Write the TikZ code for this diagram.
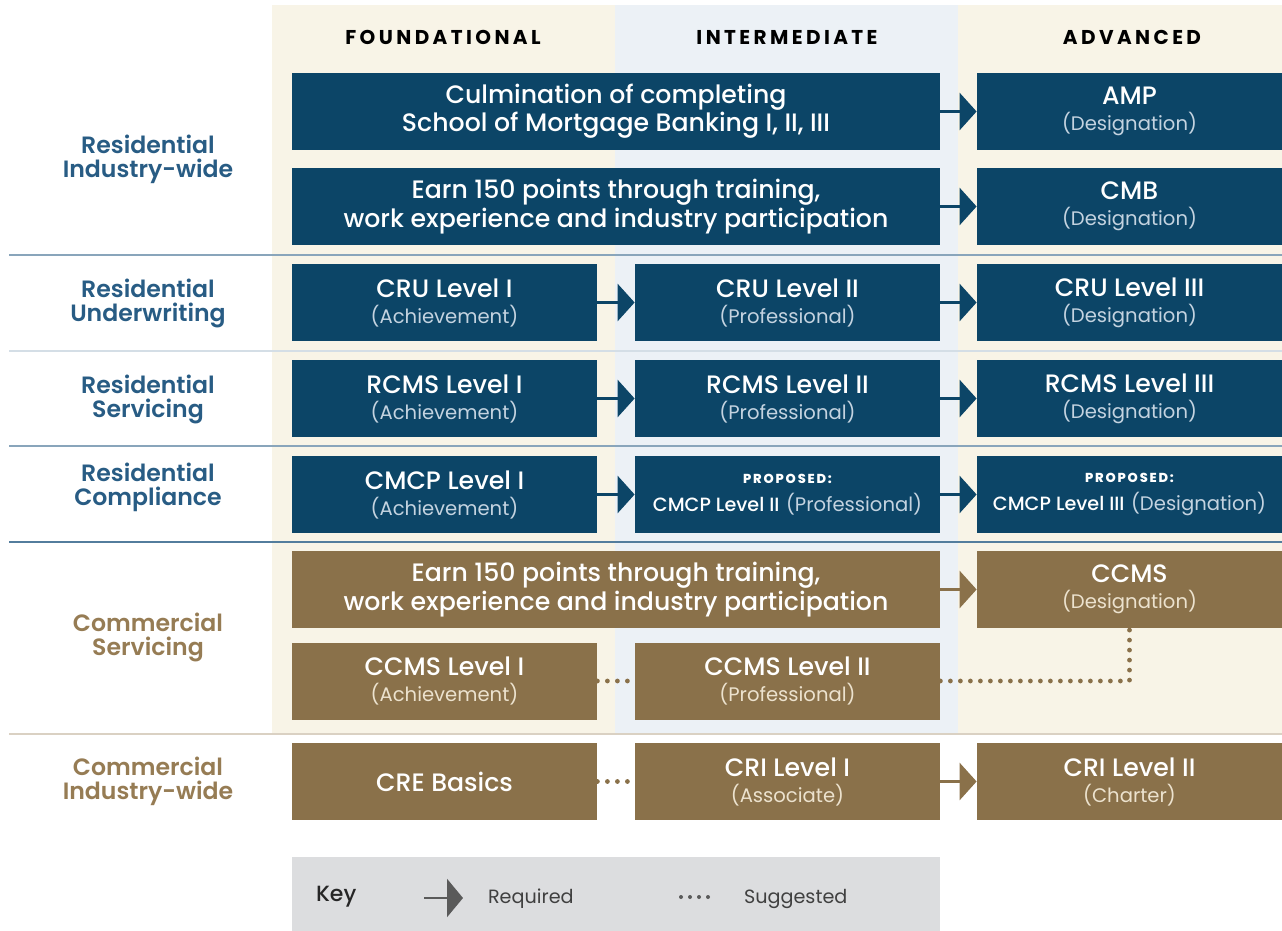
\documentclass[tikz,border=0pt]{standalone}
\usepackage{fontspec}
\setmainfont{Poppins}
\newfontfamily\medfont{Poppins Medium}
\newfontfamily\semifont{Poppins SemiBold}
\usetikzlibrary{arrows.meta}

\definecolor{resblue}{RGB}{12,69,103}
\definecolor{combrown}{RGB}{138,113,74}
\definecolor{reslabel}{RGB}{40,92,132}
\definecolor{comlabel}{RGB}{150,124,84}
\definecolor{bandbeige}{RGB}{248,244,231}
\definecolor{bandblue}{RGB}{236,241,246}
\definecolor{keygray}{RGB}{220,221,223}
\definecolor{subblue}{RGB}{196,211,224}
\definecolor{subbrown}{RGB}{236,226,206}
\definecolor{keyink}{RGB}{90,90,90}

\tikzset{
  box/.style={rectangle, inner sep=0pt, minimum height=38.5pt, align=center,
    text=white, font=\medfont\fontsize{12.6}{13}\selectfont},
  nbox/.style={box, minimum width=152.5pt},
  wbox/.style={box, minimum width=324pt},
  res/.style={fill=resblue, execute at begin node=\colorlet{lvlcol}{subblue}},
  com/.style={fill=combrown, execute at begin node=\colorlet{lvlcol}{subbrown}},
  req/.style={-{Triangle[length=8.5pt,width=18.5pt]}, line width=1.5pt},
  sugg/.style={line width=2.4pt, line cap=round, dash pattern=on 0pt off 5pt},
  rowlbl/.style={align=center, font=\semifont\fontsize{11.8}{12}\selectfont},
  colhead/.style={font=\bfseries\fontsize{10}{10}\selectfont\addfontfeatures{LetterSpace=17}},
}
% second line of a box: the kind of credential
\newcommand{\lvl}[1]{{\normalfont\fontsize{9.8}{11}\selectfont\color{lvlcol}#1}}
\newcommand{\proposed}{{\bfseries\fontsize{6.5}{8}\selectfont\addfontfeatures{LetterSpace=14}PROPOSED:}}

\begin{document}
\begin{tikzpicture}[x=0.5pt,y=-0.5pt]
    \useasboundingbox (0,0) rectangle (1282,931);

    % column bands
    \fill[bandbeige] (272,5) rectangle (615,733);
    \fill[bandblue] (615,5) rectangle (958,733);
    \fill[bandbeige] (958,5) rectangle (1282,733);

    % row separators
    \draw[line width=1.2pt, color=reslabel!55] (9,255) -- (1282,255);
    \draw[line width=0.8pt, color=reslabel!20] (9,351) -- (1282,351);
    \draw[line width=1.2pt, color=reslabel!55] (9,446) -- (1282,446);
    \draw[line width=1.4pt, color=reslabel!80] (9,542) -- (1282,542);
    \draw[line width=1pt, color=comlabel!35] (9,734) -- (1282,734);

    \node[colhead] (hfound) at (443,37) {FOUNDATIONAL};
    \node[colhead] (hinter) at (787,37) {INTERMEDIATE};
    \node[colhead] (hadv) at (1132,37) {ADVANCED};

    \node[rowlbl, text=reslabel] (lres) at (148,159) {Residential\\Industry-wide};
    \node[rowlbl, text=reslabel] (lund) at (148,303) {Residential\\Underwriting};
    \node[rowlbl, text=reslabel] (lserv) at (148,399) {Residential\\Servicing};
    \node[rowlbl, text=reslabel] (lcomp) at (148,487) {Residential\\Compliance};
    \node[rowlbl, text=comlabel] (lcserv) at (148,637) {Commercial\\Servicing};
    \node[rowlbl, text=comlabel] (lciw) at (148,781) {Commercial\\Industry-wide};

    % residential
    \node[wbox, res] (smb) at (616,111.5) {Culmination of completing\\School of Mortgage Banking I, II, III};
    \node[nbox, res] (amp) at (1129.5,111.5) {AMP\\\lvl{(Designation)}};
    \node[wbox, res] (pts) at (616,206.5) {Earn 150 points through training,\\work experience and industry participation};
    \node[nbox, res] (cmb) at (1129.5,206.5) {CMB\\\lvl{(Designation)}};

    \node[nbox, res] (cru1) at (444.5,302.5) {CRU Level I\\\lvl{(Achievement)}};
    \node[nbox, res] (cru2) at (787.5,302.5) {CRU Level II\\\lvl{(Professional)}};
    \node[nbox, res] (cru3) at (1129.5,302.5) {CRU Level III\\\lvl{(Designation)}};

    \node[nbox, res] (rcms1) at (444.5,398.5) {RCMS Level I\\\lvl{(Achievement)}};
    \node[nbox, res] (rcms2) at (787.5,398.5) {RCMS Level II\\\lvl{(Professional)}};
    \node[nbox, res] (rcms3) at (1129.5,398.5) {RCMS Level III\\\lvl{(Designation)}};

    \node[nbox, res] (cmcp1) at (444.5,494.5) {CMCP Level I\\\lvl{(Achievement)}};
    \node[nbox, res] (cmcp2) at (787.5,494.5) {\proposed\\[1pt]
        {\fontsize{9.6}{10}\selectfont CMCP Level II} \lvl{(Professional)}};
    \node[nbox, res] (cmcp3) at (1129.5,494.5) {\proposed\\[1pt]
        {\fontsize{9.6}{10}\selectfont CMCP Level III} \lvl{(Designation)}};

    % commercial
    \node[wbox, com] (cpts) at (616,589.5) {Earn 150 points through training,\\work experience and industry participation};
    \node[nbox, com] (ccms) at (1129.5,589.5) {CCMS\\\lvl{(Designation)}};
    \node[nbox, com] (ccms1) at (444.5,681) {CCMS Level I\\\lvl{(Achievement)}};
    \node[nbox, com] (ccms2) at (787.5,681) {CCMS Level II\\\lvl{(Professional)}};

    \node[nbox, com] (cre) at (444.5,781.5) {CRE Basics};
    \node[nbox, com] (cri1) at (787.5,781.5) {CRI Level I\\\lvl{(Associate)}};
    \node[nbox, com] (cri2) at (1129.5,781.5) {CRI Level II\\\lvl{(Charter)}};

    % required steps
    \draw[req, resblue] (smb) -- (amp);
    \draw[req, resblue] (pts) -- (cmb);
    \draw[req, resblue] (cru1) -- (cru2);
    \draw[req, resblue] (cru2) -- (cru3);
    \draw[req, resblue] (rcms1) -- (rcms2);
    \draw[req, resblue] (rcms2) -- (rcms3);
    \draw[req, resblue] (cmcp1) -- (cmcp2);
    \draw[req, resblue] (cmcp2) -- (cmcp3);
    \draw[req, combrown] (cpts) -- (ccms);
    \draw[req, combrown] (cri1) -- (cri2);

    % suggested steps
    \draw[sugg, combrown] (ccms1) -- (ccms2);
    \draw[sugg, combrown] (ccms2.east) -| (ccms.south);
    \draw[sugg, combrown] (cre) -- (cri1);

    % key
    \fill[keygray] (292,857) rectangle (940,931);
    \node[anchor=west, text=black!85, font=\medfont\fontsize{11}{12}\selectfont] (key) at (309,897) {Key};
    \coordinate (kreqa) at (424,898);
    \coordinate (kreqb) at (463,898);
    \draw[keyink, line width=1.4pt, -{Triangle[length=8pt,width=19pt]}] (kreqa) -- (kreqb);
    \node[anchor=west, text=black!75, font=\fontsize{9.6}{11}\selectfont] (kreq) at (481,899) {Required};
    \coordinate (ksuga) at (681,897);
    \coordinate (ksugb) at (709,897);
    \draw[keyink, line width=2pt, line cap=round, dash pattern=on 0pt off 4.5pt] (ksuga) -- (ksugb);
    \node[anchor=west, text=black!75, font=\fontsize{9.6}{11}\selectfont] (ksug) at (737,899) {Suggested};
\end{tikzpicture}
\end{document}
